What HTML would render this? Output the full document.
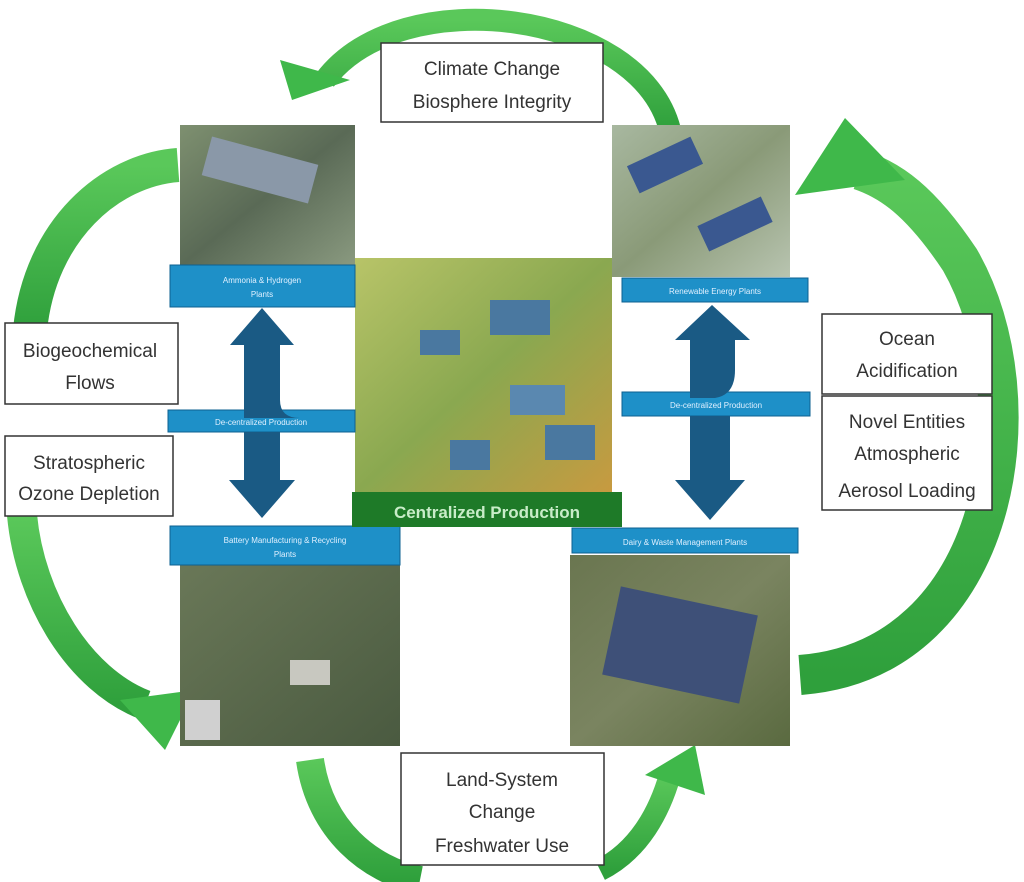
<!DOCTYPE html>
<html><head><meta charset="utf-8"><style>
body{margin:0;background:#fff}
svg{display:block}
text{font-family:"Liberation Sans",sans-serif}
</style></head><body>
<svg width="1024" height="882" viewBox="0 0 1024 882" xmlns="http://www.w3.org/2000/svg">
<defs>
<linearGradient id="g" x1="0" y1="0" x2="0" y2="1"><stop offset="0" stop-color="#5ac85a"/><stop offset="1" stop-color="#2fa03c"/></linearGradient>
<linearGradient id="tl" x1="0" y1="0" x2="1" y2="1"><stop offset="0" stop-color="#7e9070"/><stop offset="0.5" stop-color="#5a6a56"/><stop offset="1" stop-color="#8a9a80"/></linearGradient>
<linearGradient id="tr" x1="0" y1="0" x2="1" y2="1"><stop offset="0" stop-color="#a8b8a0"/><stop offset="0.5" stop-color="#8a9a78"/><stop offset="1" stop-color="#b8c4b0"/></linearGradient>
<linearGradient id="ce" x1="0" y1="0" x2="1" y2="1"><stop offset="0" stop-color="#b8c468"/><stop offset="0.5" stop-color="#8aa850"/><stop offset="1" stop-color="#c89a40"/></linearGradient>
<linearGradient id="bl" x1="0" y1="0" x2="1" y2="1"><stop offset="0" stop-color="#6a7858"/><stop offset="1" stop-color="#4a5a40"/></linearGradient>
<linearGradient id="br" x1="0" y1="0" x2="1" y2="1"><stop offset="0" stop-color="#6a7650"/><stop offset="0.5" stop-color="#7a8460"/><stop offset="1" stop-color="#5a6a40"/></linearGradient>
</defs>
<g fill="none" stroke="url(#g)" stroke-linecap="butt">
<path d="M178 165 C110 170 40 230 30 330" stroke-width="34"/>
<path d="M670 130 C640 10 400 -20 325 80" stroke-width="22"/>
<path d="M800 675 C1000 660 1040 400 960 260 C920 200 890 180 860 170" stroke-width="40"/>
<path d="M22 515 C30 600 80 680 145 705" stroke-width="30"/>
<path d="M310 760 C320 830 370 870 420 880" stroke-width="28"/>
<path d="M600 870 C640 850 660 810 670 775" stroke-width="22"/>
</g>
<g fill="#3fb84a">
<polygon points="292,100 280,60 350,80"/>
<polygon points="845,118 795,195 905,180"/>
<polygon points="165,750 120,700 195,690"/>
<polygon points="695,745 645,775 705,795"/>
</g>
<!-- photos -->
<rect x="180" y="125" width="175" height="142" fill="url(#tl)"/>
<rect x="205" y="150" width="110" height="40" fill="#8a98a8" transform="rotate(15 260 170)"/>
<rect x="612" y="125" width="178" height="152" fill="url(#tr)"/>
<rect x="630" y="150" width="70" height="30" fill="#3a5890" transform="rotate(-25 665 165)"/>
<rect x="700" y="210" width="70" height="28" fill="#3a5890" transform="rotate(-25 735 224)"/>
<rect x="355" y="258" width="257" height="236" fill="url(#ce)"/>
<rect x="420" y="330" width="40" height="25" fill="#4a78a0"/><rect x="490" y="300" width="60" height="35" fill="#4a78a0"/>
<rect x="510" y="385" width="55" height="30" fill="#5a88b0"/><rect x="450" y="440" width="40" height="30" fill="#4a78a0"/><rect x="545" y="425" width="50" height="35" fill="#4a78a0"/>
<rect x="180" y="560" width="220" height="186" fill="url(#bl)"/>
<rect x="290" y="660" width="40" height="25" fill="#c8c8c0"/><rect x="185" y="700" width="35" height="40" fill="#d0d0d0"/>
<rect x="570" y="555" width="220" height="191" fill="url(#br)"/>
<rect x="610" y="600" width="140" height="90" fill="#3e5078" transform="rotate(12 680 645)"/>
<!-- blue labels -->
<g fill="#1e90c8" stroke="#0e6090" stroke-width="1">
<rect x="170" y="265" width="185" height="42"/>
<rect x="622" y="278" width="186" height="24"/>
<rect x="168" y="410" width="187" height="22"/>
<rect x="622" y="392" width="188" height="24"/>
<rect x="170" y="526" width="230" height="39"/>
<rect x="572" y="528" width="226" height="25"/>
</g>
<g fill="#e0f0ff" font-size="8" text-anchor="middle">
<text x="262" y="283">Ammonia &amp; Hydrogen</text><text x="262" y="297">Plants</text>
<text x="715" y="294">Renewable Energy Plants</text>
<text x="261" y="425">De-centralized Production</text>
<text x="716" y="408">De-centralized Production</text>
<text x="285" y="543">Battery Manufacturing &amp; Recycling</text><text x="285" y="557">Plants</text>
<text x="685" y="545">Dairy &amp; Waste Management Plants</text>
</g>
<rect x="352" y="492" width="270" height="35" fill="#1e7a28"/>
<text x="487" y="518" font-size="17" font-weight="bold" fill="#c8ecc8" text-anchor="middle">Centralized Production</text>
<!-- dark blue double arrows -->
<g fill="#1a5a84">
<path d="M244 345 L230 345 L262 308 L294 345 L280 345 L280 400 Q280 418 300 418 L244 418 Z"/>
<path d="M244 432 L280 432 L280 480 L295 480 L262 518 L229 480 L244 480 Z"/>
<path d="M690 340 L675 340 L712 305 L750 340 L735 340 L735 370 Q735 395 715 398 L690 398 Z"/>
<path d="M690 416 L730 416 L730 480 L745 480 L710 520 L675 480 L690 480 Z"/>
</g>
<!-- text boxes -->
<g fill="#fff" stroke="#333" stroke-width="1.5">
<rect x="381" y="43" width="222" height="79"/>
<rect x="5" y="323" width="173" height="81"/>
<rect x="5" y="436" width="168" height="80"/>
<rect x="822" y="314" width="170" height="80"/>
<rect x="822" y="396" width="170" height="114"/>
<rect x="401" y="753" width="203" height="112"/>
</g>
<g fill="#333" font-size="19" text-anchor="middle">
<text x="492" y="75">Climate Change</text><text x="492" y="108">Biosphere Integrity</text>
<text x="90" y="357">Biogeochemical</text><text x="90" y="389">Flows</text>
<text x="89" y="469">Stratospheric</text><text x="89" y="500">Ozone Depletion</text>
<text x="907" y="345">Ocean</text><text x="907" y="377">Acidification</text>
<text x="907" y="428">Novel Entities</text><text x="907" y="460">Atmospheric</text><text x="907" y="497">Aerosol Loading</text>
<text x="502" y="786">Land-System</text><text x="502" y="818">Change</text><text x="502" y="852">Freshwater Use</text>
</g>
</svg>
</body></html>
